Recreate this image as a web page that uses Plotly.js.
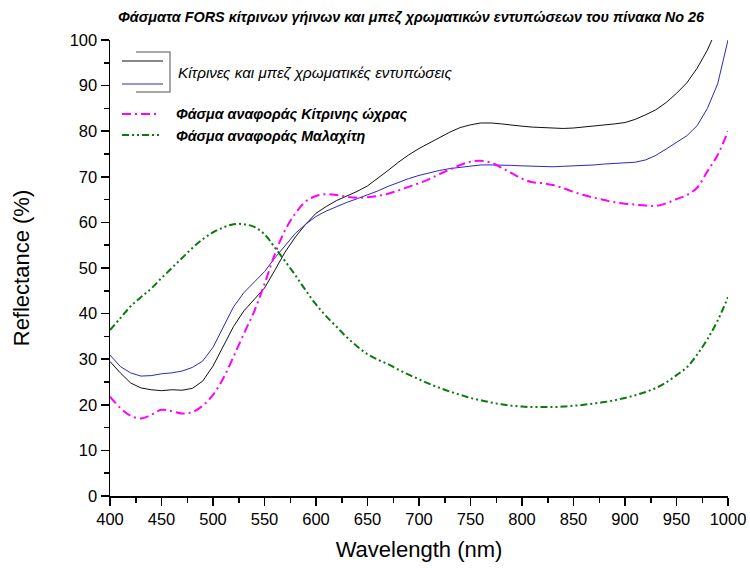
<!DOCTYPE html>
<html>
<head>
<meta charset="utf-8">
<script src="https://cdn.plot.ly/plotly-3.0.1.min.js"></script>
<style>
  html, body { margin: 0; padding: 0; background: #fff; }
  #chart { width: 750px; height: 568px; }
</style>
</head>
<body>
<div id="chart"></div>
<script>
// Wavelength grid (nm)
const wavelength = [
  400, 410, 420, 430, 440, 450, 460, 470, 480, 490,
  500, 510, 520, 530, 540, 550, 560, 570, 580, 590,
  600, 610, 620, 630, 640, 650, 660, 670, 680, 690,
  700, 710, 720, 730, 740, 750, 760, 770, 780, 790,
  800, 810, 820, 830, 840, 850, 860, 870, 880, 890,
  900, 910, 920, 930, 940, 950, 960, 970, 980, 990, 1000
];

// Yellow / beige areas of painting No 26 (two measurement points), reflectance %
const sampleA = [
  29.5, 27.0, 24.8, 23.7, 23.3, 23.1, 23.3, 23.2, 23.6, 25.2,
  28.5, 33.0, 37.2, 40.6, 43.2, 45.6, 49.5, 53.5, 56.8, 59.6,
  62.0, 63.5, 64.8, 65.8, 66.8, 68.0, 69.6, 71.4, 73.2, 74.8,
  76.2, 77.4, 78.6, 79.8, 80.8, 81.4, 81.8, 81.8, 81.6, 81.3,
  81.1, 80.9, 80.8, 80.6, 80.6, 80.7, 80.9, 81.1, 81.4, 81.6,
  81.9, 82.6, 83.6, 84.7, 86.3, 88.3, 90.6, 93.8, 97.8, 103.0, 108.0
];
const sampleB = [
  30.9, 28.4, 27.0, 26.3, 26.4, 26.8, 27.0, 27.4, 28.2, 29.6,
  32.6, 37.0, 41.5, 44.6, 47.0, 49.2, 52.2, 55.0, 57.6, 59.6,
  61.3, 62.5, 63.5, 64.4, 65.2, 66.0, 66.9, 67.9, 68.8, 69.6,
  70.3, 70.9, 71.4, 71.8, 72.1, 72.4, 72.6, 72.6, 72.6, 72.5,
  72.4, 72.3, 72.2, 72.2, 72.3, 72.4, 72.4, 72.6, 72.8, 72.9,
  73.0, 73.2, 73.7, 74.7, 76.1, 77.6, 79.0, 81.2, 85.0, 90.4, 100.0
];

// Reference spectra
const yellowOchre = [
  21.8, 19.3, 17.6, 17.0, 17.8, 18.9, 18.6, 18.1, 18.4, 19.8,
  22.2, 25.8, 30.6, 35.6, 40.5, 46.5, 53.0, 58.3, 62.0, 64.6,
  65.8, 66.2, 66.0, 65.6, 65.4, 65.5, 65.8, 66.3, 67.0, 67.8,
  68.6, 69.5, 70.6, 71.6, 72.6, 73.3, 73.5, 73.1, 72.0, 70.8,
  69.6, 68.8, 68.6, 68.2, 67.5, 66.7, 66.0, 65.4, 64.9, 64.4,
  64.1, 63.9, 63.7, 63.6, 64.2, 65.1, 66.0, 67.6, 71.2, 74.8, 80.0
];
const malachite = [
  36.4, 39.0, 41.6, 43.6, 45.5, 47.8, 50.0, 52.2, 54.4, 56.3,
  57.8, 58.9, 59.6, 59.6, 59.0, 57.4, 54.5, 51.5, 48.4, 45.1,
  42.0, 39.4, 37.1, 34.8, 32.8, 31.1, 29.9, 28.9, 27.7, 26.6,
  25.6, 24.6, 23.7, 22.9, 22.2, 21.5, 21.0, 20.5, 20.1, 19.8,
  19.6, 19.5, 19.5, 19.5, 19.6, 19.8, 20.0, 20.3, 20.6, 21.0,
  21.5, 22.1, 22.8, 23.7, 24.9, 26.5, 28.2, 31.0, 34.4, 38.5, 43.6
];

// Text
const chartTitle = 'Φάσματα FORS κίτρινων γήινων και μπεζ χρωματικών εντυπώσεων του πίνακα Νο 26';
const legendSamples = 'Κίτρινες και μπεζ χρωματικές εντυπώσεις';
const legendOchre = 'Φάσμα αναφοράς Κίτρινης ώχρας';
const legendMalachite = 'Φάσμα αναφοράς Μαλαχίτη';
const xTitle = 'Wavelength (nm)';
const yTitle = 'Reflectance (%)';

const FONT = 'Liberation Sans, Arial, sans-serif';
const BLUE = '#2a2ab8';
const MAGENTA = '#ff00ff';
const GREEN = '#0a7a0a';
const DASHDOT = '9px,4px,2px,4px';
const DASHDOTDOT = '7px,3px,2px,3px,2px,3px';

// plot area in page pixels: x 110..728, y 40..496
const L = 110, R = 728, T = 40, B = 496;
const px = v => (v - L) / (R - L);
const py = v => (B - v) / (B - T);

const traces = [
  { x: wavelength, y: sampleA, mode: 'lines', line: { color: '#111', width: 1 }, name: legendSamples },
  { x: wavelength, y: sampleB, mode: 'lines', line: { color: BLUE, width: 1 }, name: legendSamples },
  { x: wavelength, y: yellowOchre, mode: 'lines', line: { color: MAGENTA, width: 2, dash: DASHDOT, shape: 'spline' }, name: legendOchre },
  { x: wavelength, y: malachite, mode: 'lines', line: { color: GREEN, width: 2, dash: DASHDOTDOT, shape: 'spline' }, name: legendMalachite }
];

// Hand-drawn legend block
const shapes = [
  { type: 'line', xref: 'paper', yref: 'paper', x0: px(122), x1: px(163), y0: py(61), y1: py(61), line: { color: '#111', width: 1 } },
  { type: 'line', xref: 'paper', yref: 'paper', x0: px(122), x1: px(163), y0: py(84), y1: py(84), line: { color: BLUE, width: 1 } },
  { type: 'path', xref: 'paper', yref: 'paper',
    path: `M ${px(136)} ${py(52)} L ${px(170)} ${py(52)} L ${px(170)} ${py(92)} L ${px(136)} ${py(92)}`,
    line: { color: '#8a8a8a', width: 1.5 } },
  { type: 'line', xref: 'paper', yref: 'paper', x0: px(122), x1: px(160), y0: py(114), y1: py(114), line: { color: MAGENTA, width: 2, dash: DASHDOT } },
  { type: 'line', xref: 'paper', yref: 'paper', x0: px(122), x1: px(160), y0: py(135), y1: py(135), line: { color: GREEN, width: 2, dash: DASHDOTDOT } }
];

const annotations = [
  { xref: 'paper', yref: 'paper', x: px(176), y: py(72), xanchor: 'left', yanchor: 'middle', showarrow: false,
    text: '<i>' + legendSamples + '</i>', font: { family: FONT, size: 15.2, color: '#000' } },
  { xref: 'paper', yref: 'paper', x: px(174), y: py(114), xanchor: 'left', yanchor: 'middle', showarrow: false,
    text: '<b><i>' + legendOchre + '</i></b>', font: { family: FONT, size: 14.3, color: '#000' } },
  { xref: 'paper', yref: 'paper', x: px(174), y: py(136), xanchor: 'left', yanchor: 'middle', showarrow: false,
    text: '<b><i>' + legendMalachite + '</i></b>', font: { family: FONT, size: 14.3, color: '#000' } }
];

const axisCommon = {
  showgrid: false, zeroline: false, showline: true, linecolor: '#000', linewidth: 1.5,
  ticks: 'outside', ticklen: 8, tickwidth: 1.5, tickcolor: '#000', mirror: false,
  tickfont: { family: FONT, size: 16.5, color: '#000' }
};

const layout = {
  width: 750, height: 568,
  margin: { l: L, r: 750 - R, t: T, b: 568 - B, pad: 0 },
  paper_bgcolor: '#fff', plot_bgcolor: '#fff',
  showlegend: false,
  title: { text: '<b><i>' + chartTitle + '</i></b>', x: 0.548, xanchor: 'center', y: 0.97, yanchor: 'middle', yref: 'container',
    font: { family: FONT, size: 14.4, color: '#000' } },
  xaxis: Object.assign({}, axisCommon, {
    range: [400, 1000], tick0: 400, dtick: 50,
    minor: { ticks: 'outside', ticklen: 5, tickwidth: 1.5, tickcolor: '#000', dtick: 25, tick0: 400, showgrid: false },
    title: { text: xTitle, font: { family: FONT, size: 22, color: '#000' }, standoff: 14 }
  }),
  yaxis: Object.assign({}, axisCommon, {
    range: [0, 100], tick0: 0, dtick: 10,
    minor: { ticks: 'outside', ticklen: 5, tickwidth: 1.5, tickcolor: '#000', dtick: 5, tick0: 0, showgrid: false },
    title: { text: yTitle, font: { family: FONT, size: 22, color: '#000' }, standoff: 34 }
  }),
  shapes: shapes,
  annotations: annotations
};

Plotly.newPlot('chart', traces, layout, { staticPlot: true, displayModeBar: false });
</script>
</body>
</html>
